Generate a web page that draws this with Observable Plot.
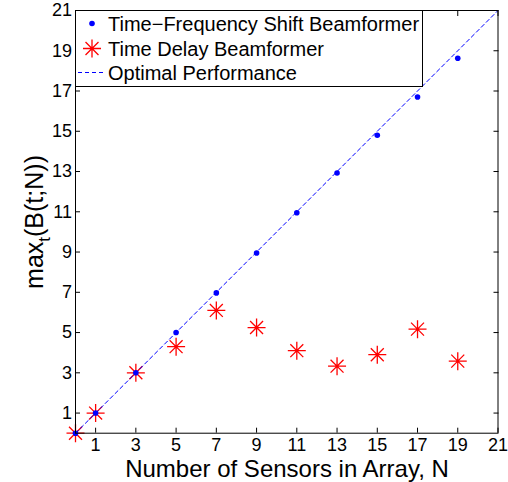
<!DOCTYPE html>
<html><head><meta charset="utf-8">
<script src="https://cdn.jsdelivr.net/npm/d3@7"></script>
<script src="https://cdn.jsdelivr.net/npm/@observablehq/plot@0.6"></script>
<style>
body{margin:0;background:#fff;font-family:"Liberation Sans",Arial,sans-serif}
#wrap{position:relative;width:508px;height:482px}
#legend{position:absolute;left:75px;top:9.5px}
</style></head><body><div id="wrap"></div>
<script>
const sensorsN = [0, 1, 3, 5, 7, 9, 11, 13, 15, 17, 19];
const tfsValues = [0, 1, 3, 5, 6.97, 8.95, 10.95, 12.93, 14.8, 16.7, 18.63];
const tdValues = [0, 1, 3, 4.3, 6.1, 5.25, 4.1, 3.33, 3.9, 5.17, 3.58];
const optimalN = [0, 21];
const xTicks = [1, 3, 5, 7, 9, 11, 13, 15, 17, 19, 21];
const yTicks = [1, 3, 5, 7, 9, 11, 13, 15, 17, 19, 21];
const legendLabels = ["Time\u2212Frequency Shift Beamformer", "Time Delay Beamformer", "Optimal Performance"];

const tfs = sensorsN.map((n, i) => ({n, v: tfsValues[i]}));
const td = sensorsN.map((n, i) => ({n, v: tdValues[i]}));
const opt = optimalN.map(n => ({n, v: n}));

const asterisk8 = {
  draw(ctx, size) {
    const r = Math.sqrt(size / Math.PI);
    const d = r * 0.72;
    ctx.moveTo(-r, 0); ctx.lineTo(r, 0);
    ctx.moveTo(0, -r); ctx.lineTo(0, r);
    ctx.moveTo(-d, -d); ctx.lineTo(d, d);
    ctx.moveTo(-d, d); ctx.lineTo(d, -d);
  }
};

const chart = Plot.plot({
  width: 508, height: 482,
  marginLeft: 75, marginRight: 10.5, marginTop: 10, marginBottom: 49.3,
  style: {fontFamily: "Liberation Sans, Arial, sans-serif", fontSize: "18px", background: "#fff", color: "#000"},
  x: {domain: [0, 21]},
  y: {domain: [0, 21]},
  marks: [
    Plot.dot(td, {x: "n", y: "v", symbol: asterisk8, r: 9, stroke: "red", strokeWidth: 1.3}),
    Plot.dot(tfs, {x: "n", y: "v", r: 2.8, fill: "blue"}),
    Plot.line(opt, {x: "n", y: "v", stroke: "blue", strokeWidth: 1, strokeDasharray: "4,3"}),
    Plot.axisX(xTicks, {anchor: "bottom", tickSize: -5, tickPadding: 10, fontSize: 18, label: null}),
    Plot.axisX(xTicks, {anchor: "top", tickSize: -5, tickFormat: () => "", label: null}),
    Plot.axisY(yTicks, {anchor: "left", tickSize: -5, tickPadding: 8.5, fontSize: 18, label: null}),
    Plot.axisY(yTicks, {anchor: "right", tickSize: -5, tickFormat: () => "", label: null}),
    Plot.frame({stroke: "black", strokeWidth: 1})
  ]
});
document.getElementById("wrap").appendChild(chart);

const svg = d3.select(chart);
svg.append("text")
  .attr("x", 287).attr("y", 477)
  .attr("text-anchor", "middle")
  .attr("font-size", 24).attr("fill", "#000")
  .text("Number of Sensors in Array, N");
const yl = svg.append("text")
  .attr("transform", "translate(43,222) rotate(-90)")
  .attr("text-anchor", "middle")
  .attr("font-size", 25).attr("fill", "#000");
yl.append("tspan").text("max");
yl.append("tspan").attr("dy", 7).attr("font-size", 17).text("t");
yl.append("tspan").attr("dy", -7).text("(B(t;N))");

// legend
const lg = d3.select("#wrap").append("svg").attr("id", "legend")
  .attr("width", 348).attr("height", 77);
lg.append("rect").attr("x", 0.5).attr("y", 0.5).attr("width", 347).attr("height", 76)
  .attr("fill", "#fff").attr("stroke", "#000").attr("stroke-width", 1);
const rows = [13.5, 38.5, 62.5];
lg.append("circle").attr("cx", 17).attr("cy", rows[0]).attr("r", 2.8).attr("fill", "blue");
const ap = d3.path(); asterisk8.draw(ap, Math.PI * 81);
lg.append("path").attr("d", ap.toString()).attr("transform", `translate(17,${rows[1]})`)
  .attr("stroke", "red").attr("stroke-width", 1.3).attr("fill", "none");
lg.append("line").attr("x1", 3).attr("x2", 31).attr("y1", rows[2]).attr("y2", rows[2])
  .attr("stroke", "blue").attr("stroke-dasharray", "4,3");
legendLabels.forEach((t, i) => {
  lg.append("text").attr("x", 33).attr("y", rows[i]).attr("dy", "0.35em")
    .attr("font-size", 20).attr("fill", "#000").text(t);
});
</script></body></html>
